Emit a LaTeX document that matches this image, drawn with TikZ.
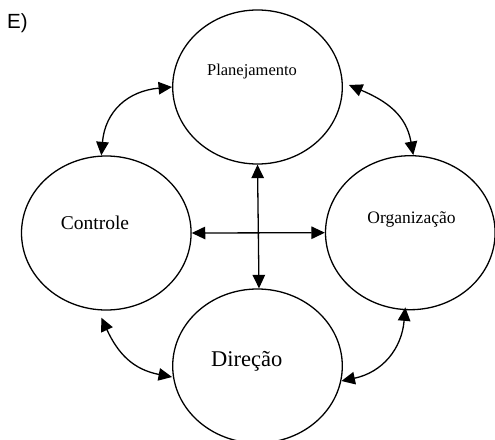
\documentclass[tikz,border=0pt]{standalone}
\usepackage{fontspec}
\setmainfont{Liberation Serif}
\newfontfamily\sansf{Liberation Sans}
\usetikzlibrary{shapes.geometric,arrows.meta}
\tikzset{
  circ/.style={draw, ellipse, line width=1.3pt, inner sep=0pt, minimum width=169.6pt, minimum height=154pt},
  conn/.style={line width=1.3pt, {Triangle[length=13.5pt,width=12.5pt]}-{Triangle[length=13.5pt,width=12.5pt]}},
  lbl/.style={inner sep=0pt, anchor=base}
}
\begin{document}
\begin{tikzpicture}[x=1pt,y=1pt]
\useasboundingbox (0,0) rectangle (495,-439);
\node[circ] (plan) at (257.5,-87) {};
\node[circ] (ctrl) at (106.3,-233) {};
\node[circ] (org) at (410.3,-232.7) {};
\node[circ] (dir) at (257.5,-366) {};

\node[lbl] (tplan) at (252,-75) {\fontsize{16.5}{18}\selectfont Planejamento};
\node[lbl] (tctrl) at (95,-229) {\fontsize{19.5}{22}\selectfont Controle};
\node[lbl] (torg) at (411.5,-223.3) {\fontsize{17.5}{20}\selectfont Organização};
\node[lbl] (tdir) at (246.7,-366) {\fontsize{22.5}{25}\selectfont Direção};
\node[lbl, anchor=base west] (title) at (7,-28.3) {\sansf\fontsize{20.5}{23}\selectfont E)};

\coordinate (pc1) at ([xshift=-5]ctrl.north);
\coordinate (pc2) at (plan.west);
\coordinate (po1) at ([shift={(6,2)}]plan.east);
\coordinate (po2) at ([xshift=3]org.north);
\coordinate (cd1) at ([shift={(-5,-7)}]ctrl.south);
\coordinate (cd2) at ([yshift=-11]dir.west);
\coordinate (od1) at ([shift={(-5,3)}]org.south);
\coordinate (od2) at ([shift={(-1.5,-15)}]dir.east);

\draw[conn] (ctrl.east) -- (org.west);
\draw[conn] (plan.south) -- ([xshift=1.5]dir.north);
\draw[conn] (pc1) to[out=85,in=185,looseness=1.15] (pc2);
\draw[conn] (po1) to[out=-23,in=100,looseness=1.1] (po2);
\draw[conn] (cd1) to[out=-65,in=169,looseness=1.1] (cd2);
\draw[conn] (od1) to[out=-95,in=12,looseness=1.1] (od2);
\end{tikzpicture}
\end{document}
